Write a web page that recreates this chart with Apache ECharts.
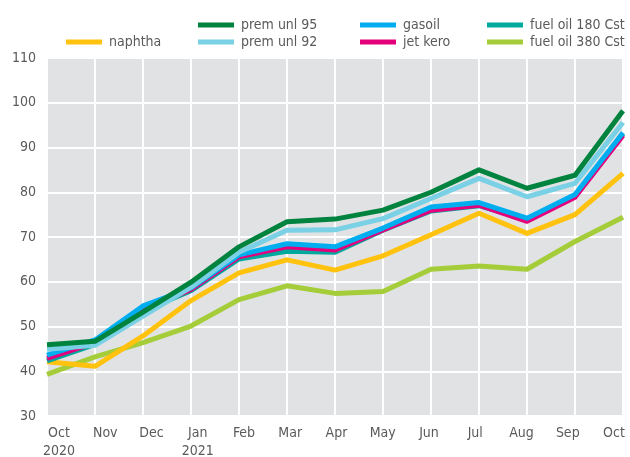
<!DOCTYPE html>
<html>
<head>
<meta charset="utf-8">
<script src="https://cdn.jsdelivr.net/npm/echarts@6/dist/echarts.min.js"></script>
<style>
  html, body { margin: 0; padding: 0; background: #fff; }
  #main { width: 630px; height: 457px; }
</style>
</head>
<body>
<div id="main"></div>
<script>
// months, Oct 2020 - Oct 2021
var months = ['Oct\n2020', 'Nov', 'Dec', 'Jan\n2021', 'Feb', 'Mar', 'Apr', 'May', 'Jun', 'Jul', 'Aug', 'Sep', 'Oct'];

var premUnl95 = [45.9, 46.7, 53.2, 59.9, 67.8, 73.4, 74.0, 76.0, 80.0, 85.0, 80.9, 83.8, 98.2];
var premUnl92 = [44.9, 45.8, 52.3, 58.8, 66.6, 71.5, 71.6, 74.1, 78.6, 83.1, 79.0, 82.0, 95.6];
var gasoil = [43.6, 47.0, 54.6, 58.6, 66.0, 68.5, 67.8, 72.0, 76.7, 77.7, 74.2, 79.5, 93.3];
var jetKero = [42.9, 46.4, 53.8, 58.3, 65.6, 67.8, 67.1, 71.6, 76.0, 77.1, 73.5, 78.9, 92.7];
var fuelOil180 = [42.3, 46.0, 53.5, 58.0, 65.1, 66.8, 66.6, 71.5, 75.8, 77.0, 73.8, 79.3, 93.0];
var naphtha = [42.1, 41.1, 47.9, 55.8, 62.0, 64.9, 62.6, 65.8, 70.5, 75.3, 70.8, 75.0, 84.2];
var fuelOil380 = [39.3, 43.2, 46.4, 50.1, 56.0, 59.1, 57.4, 57.8, 62.8, 63.5, 62.8, 69.0, 74.4];

var yMin = 30, yMax = 110, yStep = 10;

var chart = echarts.init(document.getElementById('main'));

var font = 'DejaVu Sans Condensed';
var textGray = '#5a5a5a';

function line(name, data, color) {
    return {
        name: name,
        type: 'line',
        data: data,
        symbol: 'none',
        lineStyle: {width: 5, color: color, join: 'round'},
        itemStyle: {color: color}
    };
}

function legendCol(left, top, names) {
    return {
        orient: 'vertical',
        left: left,
        top: top,
        icon: 'rect',
        itemWidth: 36,
        itemHeight: 5,
        itemGap: 3,
        padding: 0,
        textStyle: {fontFamily: font, fontSize: 14, color: textGray, padding: [0, 0, 0, 2]},
        data: names
    };
}

chart.setOption({
    animation: false,
    textStyle: {fontFamily: font},
    legend: [
        legendCol(66, 35, ['naphtha']),
        legendCol(198, 18, ['prem unl 95', 'prem unl 92']),
        legendCol(360, 18, ['gasoil', 'jet kero']),
        legendCol(487, 18, ['fuel oil 180 Cst', 'fuel oil 380 Cst'])
    ],
    grid: [{
        left: 47,
        right: 7,
        top: 58,
        bottom: 41,
        outerBoundsMode: 'none',
        show: true,
        backgroundColor: '#e1e2e4',
        borderWidth: 0
    }, {
        // labels in the source sit slightly inside the gridlines
        left: 59,
        right: 16,
        top: 58,
        bottom: 41,
        outerBoundsMode: 'none'
    }],
    xAxis: [{
        type: 'category',
        boundaryGap: false,
        data: months,
        axisLine: {show: false},
        axisTick: {show: false},
        axisLabel: {show: false},
        splitLine: {show: true, lineStyle: {color: '#fff', width: 2}}
    }, {
        type: 'category',
        gridIndex: 1,
        boundaryGap: false,
        data: months,
        axisLine: {show: false},
        axisTick: {show: false},
        axisLabel: {fontFamily: font, fontSize: 14, color: textGray, margin: 8, lineHeight: 18, interval: 0},
        splitLine: {show: false}
    }],
    yAxis: [{
        type: 'value',
        min: yMin,
        max: yMax,
        interval: yStep,
        axisLine: {show: false},
        axisTick: {show: false},
        axisLabel: {fontFamily: font, fontSize: 14, color: textGray, margin: 11},
        splitLine: {lineStyle: {color: '#fff', width: 2}}
    }, {
        type: 'value',
        gridIndex: 1,
        min: yMin,
        max: yMax,
        show: false
    }],
    series: [
        line('fuel oil 380 Cst', fuelOil380, '#a5cd39'),
        line('naphtha', naphtha, '#ffc20e'),
        line('fuel oil 180 Cst', fuelOil180, '#00a99d'),
        line('jet kero', jetKero, '#e4007c'),
        line('gasoil', gasoil, '#00aeef'),
        line('prem unl 92', premUnl92, '#7ad0e4'),
        line('prem unl 95', premUnl95, '#00833e')
    ]
});
</script>
</body>
</html>
